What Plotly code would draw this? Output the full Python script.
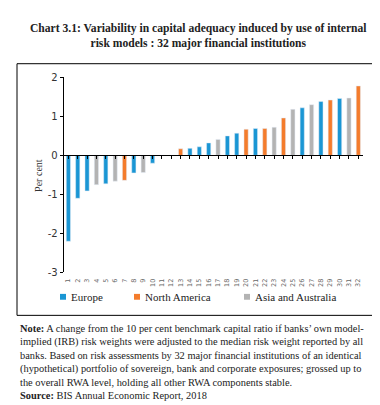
import plotly.graph_objects as go

institutions = list(range(1, 33))
values = [-2.2, -1.1, -0.91, -0.75, -0.73, -0.66, -0.64, -0.45, -0.44, -0.2,
          0.0, 0.0, 0.17, 0.18, 0.22, 0.32, 0.41, 0.5, 0.57, 0.67,
          0.69, 0.69, 0.72, 0.96, 1.18, 1.22, 1.3, 1.38, 1.42, 1.46, 1.47, 1.78]
regions = ["EU", "EU", "EU", "AS", "EU", "AS", "NA", "EU", "AS", "EU",
           "EU", "EU", "NA", "EU", "EU", "EU", "AS", "EU", "EU", "NA",
           "EU", "NA", "AS", "NA", "AS", "EU", "AS", "EU", "NA", "EU", "AS", "NA"]
region_keys = ["EU", "NA", "AS"]
region_names = ["Europe", "North America", "Asia and Australia"]
region_colors = ["#1a96d4", "#f47c2c", "#b3b3b3"]
y_ticks = [2, 1, 0, -1, -2, -3]
y_tick_labels = ["2", "1", "0", "-1", "-2", "-3"]

title_text = ("Chart 3.1: Variability in capital adequacy induced by use of internal<br>"
              "risk models : 32 major financial institutions")
note_lines = [
    "<b>Note:</b> A change from the 10 per cent benchmark capital ratio if banks\u2019 own model-",
    "implied (IRB) risk weights were adjusted to the median risk weight reported by all",
    "banks. Based on risk assessments by 32 major financial institutions of an identical",
    "(hypothetical) portfolio of sovereign, bank and corporate exposures; grossed up to",
    "the overall RWA level, holding all other RWA components stable.",
    "<b>Source:</b> BIS Annual Economic Report, 2018",
]

W, H = 380, 405
def px(x):
    return x / W
def py(y):
    return (H - y) / H

xd = [px(55.7), px(355)]
yd = [py(266), py(66)]
zero_pos = yd[0] + (yd[1] - yd[0]) * 3 / 5

fig = go.Figure()
for key, name, col in zip(region_keys, region_names, region_colors):
    xs = [i for i, r in zip(institutions, regions) if r == key]
    ys = [v for v, r in zip(values, regions) if r == key]
    fig.add_trace(go.Bar(x=xs, y=ys, name=name, marker_color=col,
                         width=0.45, showlegend=False))
# helper trace for the zero-line axis
fig.add_trace(go.Scatter(x=institutions, y=[0] * len(institutions), xaxis="x2",
                         mode="none", showlegend=False, hoverinfo="skip"))

serif = "Liberation Serif"
sans = "DejaVu Sans"

fig.update_layout(
    width=W, height=H, margin=dict(l=0, r=0, t=0, b=0),
    paper_bgcolor="white", plot_bgcolor="white",
    barmode="overlay",
    xaxis=dict(domain=xd, range=[0.5, 32.5], tickvals=institutions,
               ticktext=[str(i) for i in institutions], tickangle=-90,
               tickfont=dict(family=sans, size=6.5, color="#666"),
               showline=False, ticks="", showgrid=False, zeroline=False,
               ticklabelstandoff=4, anchor="y"),
    xaxis2=dict(domain=xd, range=[0.5, 32.5], overlaying="x", anchor="free",
                position=zero_pos, tickvals=institutions, showticklabels=False,
                ticks="outside", ticklen=3, tickcolor="black", showline=True,
                linecolor="black", linewidth=1, showgrid=False, zeroline=False),
    yaxis=dict(domain=yd, range=[-3, 2], tickvals=y_ticks, ticktext=y_tick_labels,
               tickfont=dict(family=sans, size=10, color="#333"),
               showline=True, linecolor="black", linewidth=1, ticks="outside",
               ticklen=3, tickcolor="black", showgrid=False, zeroline=False),
)

# y-axis title
fig.add_annotation(text="Per cent", xref="paper", yref="paper",
                   x=px(31), y=py(167), xanchor="center", yanchor="middle",
                   textangle=-90, showarrow=False,
                   font=dict(family=serif, size=10, color="#333"))

# outer box
fig.add_shape(type="rect", xref="paper", yref="paper",
              x0=px(9), x1=px(371), y0=py(310), y1=py(52),
              line=dict(color="black", width=1), fillcolor="rgba(0,0,0,0)")

# title
fig.add_annotation(text="<b>" + title_text + "</b>", xref="paper", yref="paper",
                   x=px(190), y=py(24), xanchor="center", yanchor="middle",
                   showarrow=False, align="center",
                   font=dict(family=serif, size=11.6, color="#222"))

# legend
leg_sq_x = [52, 126, 236]
for name, col, sx in zip(region_names, region_colors, leg_sq_x):
    fig.add_shape(type="rect", xref="paper", yref="paper",
                  x0=px(sx), x1=px(sx + 6), y0=py(294), y1=py(288),
                  line=dict(width=0), fillcolor=col)
    fig.add_annotation(text=name, xref="paper", yref="paper",
                       x=px(sx + 9), y=py(291), xanchor="left", yanchor="middle",
                       showarrow=False, font=dict(family=serif, size=11, color="#222"))

# note lines
note_y = [323, 337, 351, 365, 379, 392]
for line, yy in zip(note_lines, note_y):
    fig.add_annotation(text=line, xref="paper", yref="paper",
                       x=px(10), y=py(yy), xanchor="left", yanchor="middle",
                       showarrow=False, align="left",
                       font=dict(family=serif, size=10.4, color="#222"))

fig.write_html("out.html")
